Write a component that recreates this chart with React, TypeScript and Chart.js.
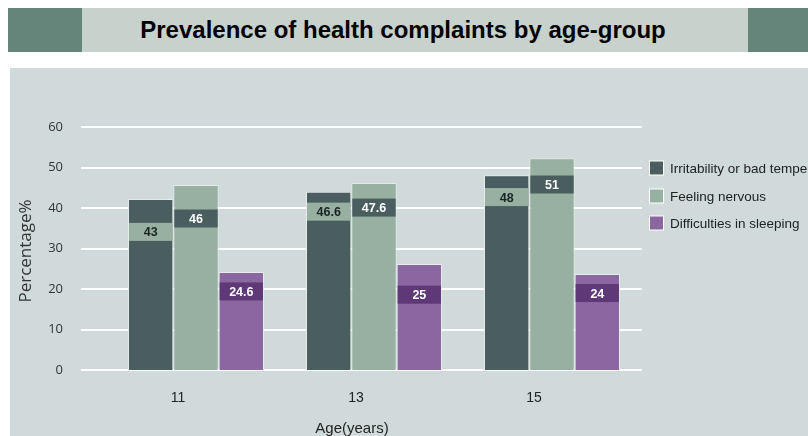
import { useEffect, useRef } from 'react';
import { Chart, registerables } from 'chart.js';

Chart.register(...registerables);

const ages = ['11', '13', '15'];
const seriesNames = ['Irritability or bad temper', 'Feeling nervous', 'Difficulties in sleeping'];
const irritability = [42.2, 44.0, 48.1];
const nervous = [45.7, 46.2, 52.3];
const sleeping = [24.2, 26.2, 23.7];
const irritabilityLabels = ['43', '46.6', '48'];
const nervousLabels = ['46', '47.6', '51'];
const sleepingLabels = ['24.6', '25', '24'];
const irritabilityLabelAt = [34.1, 39.1, 42.7];
const nervousLabelAt = [37.4, 40.1, 45.8];
const sleepingLabelAt = [19.4, 18.6, 19.0];
const yTicks = [0, 10, 20, 30, 40, 50, 60];

const barColors = ['#4a5e5f', '#97b0a1', '#8a67a0'];
const bandColors = ['#97b0a1', '#4a5e5f', '#5e3877'];
const bandText = ['#1b2424', '#ffffff', '#ffffff'];
const labelSets = [irritabilityLabels, nervousLabels, sleepingLabels];
const labelAtSets = [irritabilityLabelAt, nervousLabelAt, sleepingLabelAt];

const customPlugin = {
  id: 'custom',
  beforeDatasetsDraw(chart: any) {
    const { ctx, chartArea, scales } = chart;
    const y = scales.y;
    ctx.save();
    ctx.strokeStyle = '#ffffff';
    ctx.lineWidth = 2;
    for (const v of yTicks) {
      const py = Math.round(y.getPixelForValue(v));
      ctx.beginPath();
      ctx.moveTo(chartArea.left - 26, py);
      ctx.lineTo(chartArea.right + 1, py);
      ctx.stroke();
    }
    ctx.restore();
  },
  afterDatasetsDraw(chart: any) {
    const { ctx, scales } = chart;
    const y = scales.y;
    ctx.save();
    chart.data.datasets.forEach((ds: any, di: number) => {
      const meta = chart.getDatasetMeta(di);
      meta.data.forEach((bar: any, i: number) => {
        const w = bar.width - 2;
        const cy = y.getPixelForValue(labelAtSets[di][i]);
        ctx.fillStyle = bandColors[di];
        ctx.fillRect(bar.x - w / 2, cy - 9, w, 18);
        ctx.fillStyle = bandText[di];
        ctx.font = 'bold 12.5px "Liberation Sans", Arial, sans-serif';
        ctx.textAlign = 'center';
        ctx.textBaseline = 'middle';
        ctx.fillText(labelSets[di][i], bar.x, cy + 1);
      });
    });
    ctx.restore();
  },
  afterDraw(chart: any) {
    const { ctx, chartArea } = chart;
    ctx.save();
    // legend
    const lx = chartArea.right + 9;
    const rows = [100, 128, 155];
    chart.data.datasets.forEach((ds: any, di: number) => {
      const cy = rows[di];
      ctx.fillStyle = '#ffffff';
      ctx.fillRect(lx - 1, cy - 7.5, 15, 15);
      ctx.fillStyle = barColors[di];
      ctx.fillRect(lx, cy - 6.5, 13, 13);
      ctx.fillStyle = '#222222';
      ctx.font = '13.5px "Liberation Sans", Arial, sans-serif';
      ctx.textAlign = 'left';
      ctx.textBaseline = 'middle';
      ctx.fillText(ds.label, lx + 20, cy + 1);
    });
    // axis titles
    ctx.fillStyle = '#222222';
    ctx.font = '15px "Liberation Sans", Arial, sans-serif';
    ctx.textAlign = 'center';
    ctx.textBaseline = 'middle';
    ctx.fillText('Age(years)', 342, 361);
    ctx.translate(16, 183);
    ctx.rotate(-Math.PI / 2);
    ctx.font = '17px "Open Sans", sans-serif';
    ctx.fillStyle = '#333333';
    ctx.fillText('Percentage%', 0, 0);
    ctx.restore();
  },
};

function ChartCanvas() {
  const ref = useRef<HTMLCanvasElement>(null);
  useEffect(() => {
    if (!ref.current) return;
    const chart = new Chart(ref.current, {
      type: 'bar',
      data: {
        labels: ages,
        datasets: [
          { label: seriesNames[0], data: irritability, backgroundColor: barColors[0], borderColor: '#e4ebe8', borderWidth: 1 },
          { label: seriesNames[1], data: nervous, backgroundColor: barColors[1], borderColor: '#e4ebe8', borderWidth: 1 },
          { label: seriesNames[2], data: sleeping, backgroundColor: barColors[2], borderColor: '#e4ebe8', borderWidth: 1 },
        ],
      },
      options: {
        responsive: false,
        animation: false,
        devicePixelRatio: 1,
        layout: { padding: { left: 0, right: 167, top: 59, bottom: 0 } },
        datasets: { bar: { categoryPercentage: 0.764, barPercentage: 1.0 } },
        plugins: { legend: { display: false }, tooltip: { enabled: false }, title: { display: false } },
        scales: {
          x: {
            grid: { display: false, drawTicks: false },
            border: { display: false },
            ticks: {
              padding: 20,
              labelOffset: -18,
              color: '#222222',
              font: { family: '"Liberation Sans", Arial, sans-serif', size: 14 },
            },
            afterFit: (s: any) => { s.height = 66; },
          },
          y: {
            min: 0,
            max: 60,
            grid: { display: false, drawTicks: false },
            border: { display: false },
            ticks: {
              stepSize: 10,
              padding: 44,
              color: '#333333',
              font: { family: '"Open Sans", sans-serif', size: 13 },
            },
            afterFit: (s: any) => { s.width = 97; },
          },
        },
      },
      plugins: [customPlugin],
    });
    return () => chart.destroy();
  }, []);
  return <canvas ref={ref} width={798} height={368} style={{ display: 'block' }} />;
}

export default function App() {
  return (
    <div style={{ position: 'absolute', left: 0, top: 0, width: 808, height: 436, background: '#ffffff', overflow: 'hidden' }}>
      <div style={{ position: 'absolute', left: 8, top: 8, width: 74, height: 44, background: '#66857a' }} />
      <div style={{ position: 'absolute', left: 82, top: 8, width: 666, height: 44, background: '#c8d2cd' }} />
      <div style={{ position: 'absolute', left: 748, top: 8, width: 60, height: 44, background: '#66857a' }} />
      <div
        style={{
          position: 'absolute', left: 0, top: 8, width: 806, height: 44, lineHeight: '44px', textAlign: 'center',
          fontFamily: '"Liberation Sans", Arial, sans-serif', fontWeight: 'bold', fontSize: 24, color: '#000000',
        }}
      >
        Prevalence of health complaints by age-group
      </div>
      <div style={{ position: 'absolute', left: 10, top: 68, width: 798, height: 368, background: '#d1dadb' }}>
        <ChartCanvas />
      </div>
    </div>
  );
}
